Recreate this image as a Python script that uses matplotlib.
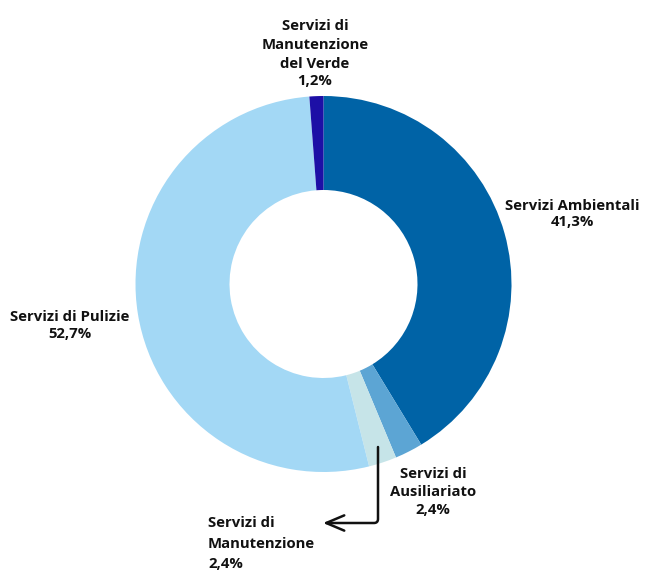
import matplotlib.pyplot as plt

# dati del grafico (ordine orario dall'alto)
labels = ["Servizi Ambientali", "Servizi di Ausiliariato", "Servizi di Manutenzione",
          "Servizi di Pulizie", "Servizi di Manutenzione del Verde"]
values = [41.3, 2.4, 2.4, 52.7, 1.2]
colors = ["#0063A6", "#5CA5D4", "#C6E4E8", "#A3D8F5", "#1D0FA6"]

W, H = 656, 586
fig = plt.figure(figsize=(W / 100, H / 100), dpi=100)
ax = fig.add_axes([0, 0, 1, 1])

cx, cy, r = 323.5, H - 284, 188
ax.pie(values, colors=colors, startangle=90, counterclock=False,
       center=(cx, cy), radius=r, wedgeprops=dict(width=r * 0.5, linewidth=0),
       frame=True)
ax.set_xlim(0, W)
ax.set_ylim(0, H)
ax.set_aspect("equal")
ax.axis("off")

font = dict(family=["Open Sans", "DejaVu Sans"], fontweight="bold", fontsize=10.7,
            color="#111111")

def lab(x, y, s, ls, ha="center"):
    ax.text(x, H - y, s, ha=ha, va="center", linespacing=ls, **font)

lab(315, 45, "Servizi di\nManutenzione\ndel Verde", 1.47)
lab(315, 81, "1,2%", 1.0)
lab(572, 214, "Servizi Ambientali\n41,3%", 1.25)
lab(70, 325.5, "Servizi di Pulizie\n52,7%", 1.25)
lab(433, 492, "Servizi di\nAusiliariato\n2,4%", 1.4)
lab(208, 543.5, "Servizi di\nManutenzione\n2,4%", 1.58, ha="left")

ax.annotate("", xy=(323, H - 523), xytext=(378, H - 447),
            arrowprops=dict(arrowstyle="->,head_length=1.3,head_width=0.55",
                            connectionstyle="angle,angleA=90,angleB=0,rad=4",
                            lw=1.8, color="#111111", shrinkA=0, shrinkB=0))

fig.savefig("out.png", dpi=100)
